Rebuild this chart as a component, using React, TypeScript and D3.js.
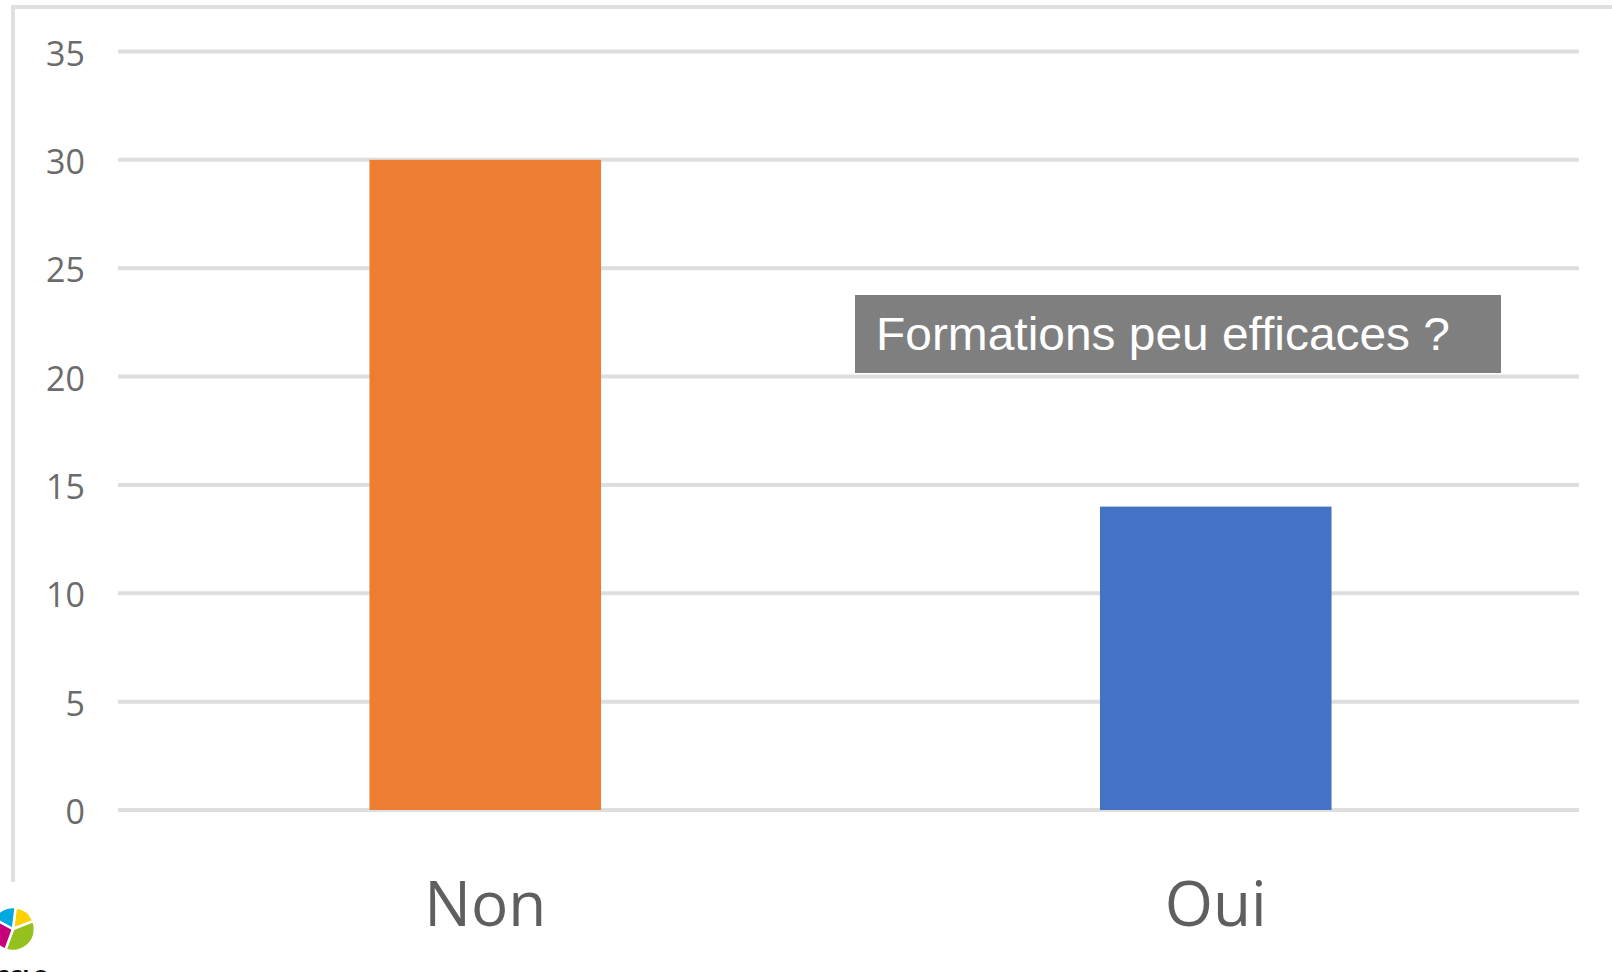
import React from 'react';
import * as d3 from 'd3';

const categories = ['Non', 'Oui'];
const values = [30, 14];
const barColors = ['#ed7d31', '#4472c4'];
const yTicks = [0, 5, 10, 15, 20, 25, 30, 35];
const titleText = 'Formations peu efficaces ?';

const W = 1612;
const H = 972;

export default function App() {
  const x = d3.scaleBand<string>()
    .domain(categories)
    .range([120, 1581])
    .paddingInner(0.683)
    .paddingOuter(0.683 / 2);

  const y = d3.scaleLinear().domain([0, 35]).range([810, 51.5]);

  const [x0, x1] = x.range();

  // logo pieces (decorative, bottom-left corner)
  const cx = 13, cy = 929, r = 22;
  const arc = d3.arc<any>().innerRadius(0).outerRadius(r);
  const pieces = [
    { a0: 0.12, a1: 1.2, color: '#ffd100' },
    { a0: 1.2, a1: Math.PI + 0.35, color: '#95c11f' },
    { a0: Math.PI + 0.35, a1: Math.PI * 1.5 + 0.5, color: '#c4007a' },
    { a0: Math.PI * 1.5 + 0.5, a1: Math.PI * 2 + 0.12, color: '#00a9e0' },
  ];

  return (
    <div style={{ position: 'absolute', left: 0, top: 0 }}>
      <svg width={W} height={H} style={{ display: 'block', background: '#fff' }}>
        {/* frame */}
        <line x1={11} x2={W} y1={7} y2={7} stroke="#e0e0e0" strokeWidth={4} />
        <line x1={13} x2={13} y1={5} y2={882} stroke="#e0e0e0" strokeWidth={4} />

        {/* grid */}
        {yTicks.map(t => (
          <g key={t}>
            <line x1={x0 - 2} x2={x1 - 2} y1={y(t)} y2={y(t)} stroke="#dedede" strokeWidth={4} />
            <text
              x={85}
              y={y(t) + 14}
              textAnchor="end"
              fontFamily="'Open Sans', sans-serif"
              fontSize={34}
              fill="#6b6b6b"
            >
              {t}
            </text>
          </g>
        ))}

        {/* bars */}
        {categories.map((c, i) => (
          <rect
            key={c}
            x={x(c)!}
            y={y(values[i])}
            width={x.bandwidth()}
            height={y(0) - y(values[i])}
            fill={barColors[i]}
          />
        ))}

        {/* category labels */}
        {categories.map(c => (
          <text
            key={c}
            x={x(c)! + x.bandwidth() / 2}
            y={926}
            textAnchor="middle"
            fontFamily="'Open Sans', sans-serif"
            fontSize={62}
            fill="#5f5f5f"
          >
            {c}
          </text>
        ))}

        {/* title box */}
        <rect x={855} y={295} width={646} height={78} fill="#7f7f7f" />
        <text
          x={876}
          y={350}
          fontFamily="'Liberation Sans', Arial, sans-serif"
          fontSize={47}
          fill="#ffffff"
          textLength={574}
          lengthAdjust="spacingAndGlyphs"
        >
          {titleText}
        </text>

        {/* logo */}
        <g transform={`translate(${cx},${cy})`}>
          {pieces.map((p, i) => (
            <path
              key={i}
              d={arc({ startAngle: p.a0, endAngle: p.a1 }) as string}
              fill={p.color}
              stroke="#fff"
              strokeWidth={2.5}
            />
          ))}
        </g>
        <text
          x={-4}
          y={983}
          fontFamily="'DejaVu Sans', sans-serif"
          fontWeight="bold"
          fontSize={18}
          fill="#111"
        >
          CCLO
        </text>
      </svg>
    </div>
  );
}
